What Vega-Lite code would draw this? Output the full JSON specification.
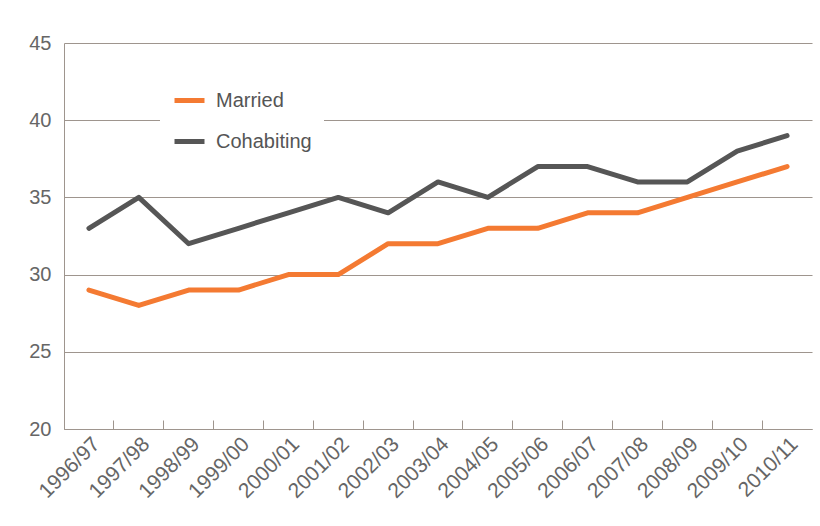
{
  "$schema": "https://vega.github.io/schema/vega-lite/v6.json",
  "width": 748,
  "height": 386,
  "autosize": {"type": "none"},
  "padding": {"left": 64, "top": 43, "right": 8, "bottom": 97},
  "background": "white",
  "data": {"values": [
    {"year": "1996/97", "series": "Married", "value": 29},
    {"year": "1997/98", "series": "Married", "value": 28},
    {"year": "1998/99", "series": "Married", "value": 29},
    {"year": "1999/00", "series": "Married", "value": 29},
    {"year": "2000/01", "series": "Married", "value": 30},
    {"year": "2001/02", "series": "Married", "value": 30},
    {"year": "2002/03", "series": "Married", "value": 32},
    {"year": "2003/04", "series": "Married", "value": 32},
    {"year": "2004/05", "series": "Married", "value": 33},
    {"year": "2005/06", "series": "Married", "value": 33},
    {"year": "2006/07", "series": "Married", "value": 34},
    {"year": "2007/08", "series": "Married", "value": 34},
    {"year": "2008/09", "series": "Married", "value": 35},
    {"year": "2009/10", "series": "Married", "value": 36},
    {"year": "2010/11", "series": "Married", "value": 37},
    {"year": "1996/97", "series": "Cohabiting", "value": 33},
    {"year": "1997/98", "series": "Cohabiting", "value": 35},
    {"year": "1998/99", "series": "Cohabiting", "value": 32},
    {"year": "1999/00", "series": "Cohabiting", "value": 33},
    {"year": "2000/01", "series": "Cohabiting", "value": 34},
    {"year": "2001/02", "series": "Cohabiting", "value": 35},
    {"year": "2002/03", "series": "Cohabiting", "value": 34},
    {"year": "2003/04", "series": "Cohabiting", "value": 36},
    {"year": "2004/05", "series": "Cohabiting", "value": 35},
    {"year": "2005/06", "series": "Cohabiting", "value": 37},
    {"year": "2006/07", "series": "Cohabiting", "value": 37},
    {"year": "2007/08", "series": "Cohabiting", "value": 36},
    {"year": "2008/09", "series": "Cohabiting", "value": 36},
    {"year": "2009/10", "series": "Cohabiting", "value": 38},
    {"year": "2010/11", "series": "Cohabiting", "value": 39}
  ]},
  "mark": {"type": "line", "strokeWidth": 5, "strokeCap": "round", "strokeJoin": "round"},
  "encoding": {
    "x": {
      "field": "year", "type": "ordinal",
      "scale": {"type": "band", "paddingInner": 0, "paddingOuter": 0},
      "axis": {
        "title": null, "labelAngle": -45, "bandPosition": 0,
        "tickSize": -9, "tickColor": "#9e958e", "domainColor": "#9e958e",
        "labelFont": "Liberation Sans", "labelFontSize": 21, "labelColor": "#666666",
        "labelPadding": 13, "grid": false, "labelBound": false, "labelOverlap": false
      }
    },
    "y": {
      "field": "value", "type": "quantitative",
      "scale": {"domain": [20, 45], "nice": false, "zero": false},
      "axis": {
        "title": null, "values": [20, 25, 30, 35, 40, 45], "ticks": false,
        "labelPadding": 13, "labelFont": "Liberation Sans", "labelFontSize": 20,
        "labelColor": "#666666", "gridColor": "#9e958e", "gridWidth": 1.2,
        "domainColor": "#9e958e"
      }
    },
    "color": {
      "field": "series", "type": "nominal",
      "scale": {"domain": ["Married", "Cohabiting"], "range": ["#f47a32", "#565656"]},
      "legend": {
        "title": null, "orient": "none", "legendX": 96, "legendY": 28,
        "fillColor": "white", "padding": 12,
        "symbolType": "stroke", "symbolStrokeWidth": 5, "symbolSize": 900,
        "labelFont": "Liberation Sans", "labelFontSize": 20, "labelColor": "#555555",
        "rowPadding": 13, "labelOffset": 9
      }
    }
  },
  "config": {"view": {"stroke": null}}
}
